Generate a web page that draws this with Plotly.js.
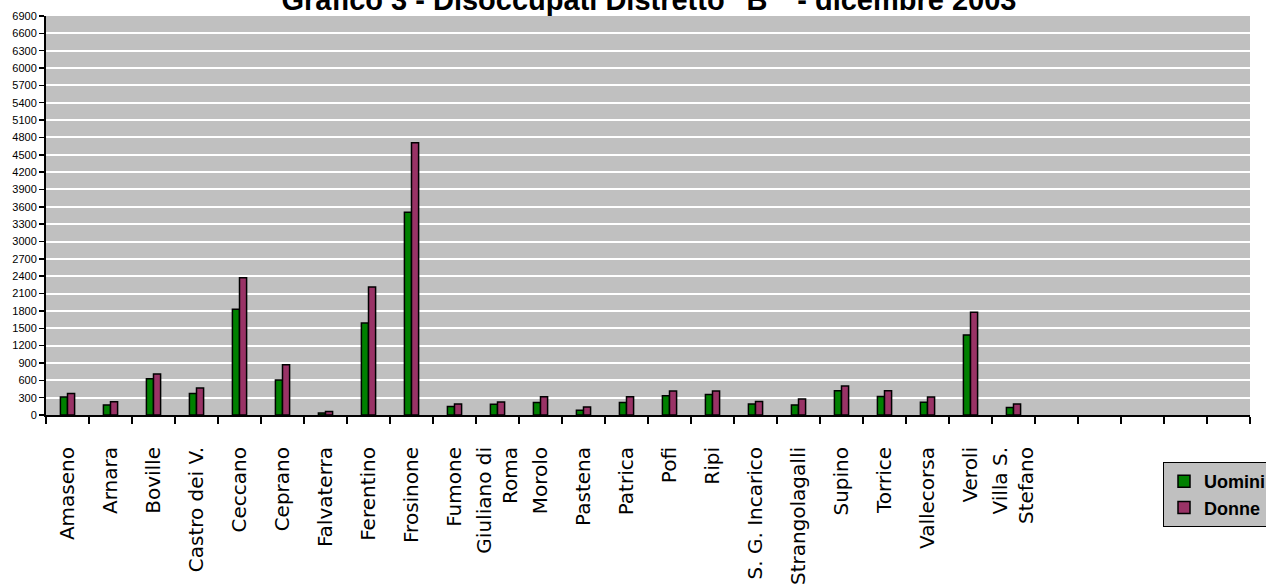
<!DOCTYPE html>
<html>
<head>
<meta charset="utf-8">
<script src="https://cdn.plot.ly/plotly-3.0.1.min.js"></script>
<style>html,body{margin:0;padding:0;background:#fff;}#chart{width:1266px;height:588px;}</style>
</head>
<body>
<div id="chart"></div>
<script>
const categories = ["Amaseno","Arnara","Boville","Castro dei V.","Ceccano","Ceprano","Falvaterra","Ferentino","Frosinone","Fumone","Giuliano di<br>Roma","Morolo","Pastena","Patrica","Pofi","Ripi","S. G. Incarico","Strangolagalli","Supino","Torrice","Vallecorsa","Veroli","Villa S.<br>Stefano"];
const emptySlots = [" ","  ","   ","    ","     "];
const uomini = [310,175,625,370,1830,605,35,1590,3505,145,185,215,80,215,335,355,190,175,420,320,220,1385,130];
const donne  = [370,230,710,465,2375,870,60,2215,4710,190,225,315,140,315,415,415,235,275,500,420,310,1775,190];
const seriesNames = ["Uomini","Donne"];
const yTicks = [];
for (let v = 0; v <= 6900; v += 300) yTicks.push(v);

const xAll = categories.concat(emptySlots);
const pad = emptySlots.map(() => null);

const traces = [
  {type:"bar", name:seriesNames[0], x:xAll, y:uomini.concat(pad),
   marker:{color:"#008000", line:{color:"#000", width:1.5}}},
  {type:"bar", name:seriesNames[1], x:xAll, y:donne.concat(pad),
   marker:{color:"#993366", line:{color:"#000", width:1.5}}}
];

const layout = {
  width:1266, height:588,
  margin:{l:46, r:16, t:16, b:173, autoexpand:false},
  paper_bgcolor:"#ffffff",
  plot_bgcolor:"#c0c0c0",
  barmode:"group", bargap:0.67, bargroupgap:0,
  title:{text:'Grafico 3 - Disoccupati Distretto "B"  - dicembre 2003',
         font:{family:"Liberation Sans, Arial, sans-serif", size:29, color:"#000", weight:"bold"},
         x:649/1266, xanchor:"center", xref:"container", yref:"container", y:1.0, yanchor:"middle"},
  showlegend:true,
  legend:{x:1163/1266, xref:"container", y:1-462/588, yref:"container", xanchor:"left", yanchor:"top",
          bgcolor:"#c0c0c0", bordercolor:"#000", borderwidth:1,
          font:{family:"Liberation Sans, Arial, sans-serif", size:18, color:"#000", weight:"bold"},
          itemwidth:30},
  xaxis:{type:"category", categoryorder:"array", categoryarray:xAll,
         range:[-0.5, xAll.length-0.5], automargin:false,
         showgrid:false, showline:true, linecolor:"#000", linewidth:2,
         ticks:"outside", ticklen:7, tickwidth:2, tickcolor:"#000", tickson:"boundaries",
         tickangle:-90, ticklabelstandoff:22,
         tickfont:{family:"DejaVu Sans, sans-serif", size:20, color:"#000"},
         zeroline:false, fixedrange:true},
  yaxis:{range:[0,6900], tickvals:yTicks, ticktext:yTicks.map(String), automargin:false,
         showgrid:true, gridcolor:"#ffffff", gridwidth:2,
         showline:true, linecolor:"#000", linewidth:2,
         ticks:"outside", ticklen:5, tickwidth:1.5, tickcolor:"#000",
         tickfont:{family:"Liberation Sans, Arial, sans-serif", size:11, color:"#000"},
         zeroline:false, fixedrange:true}
};

Plotly.newPlot("chart", traces, layout, {displayModeBar:false, staticPlot:true});
</script>
</body>
</html>
